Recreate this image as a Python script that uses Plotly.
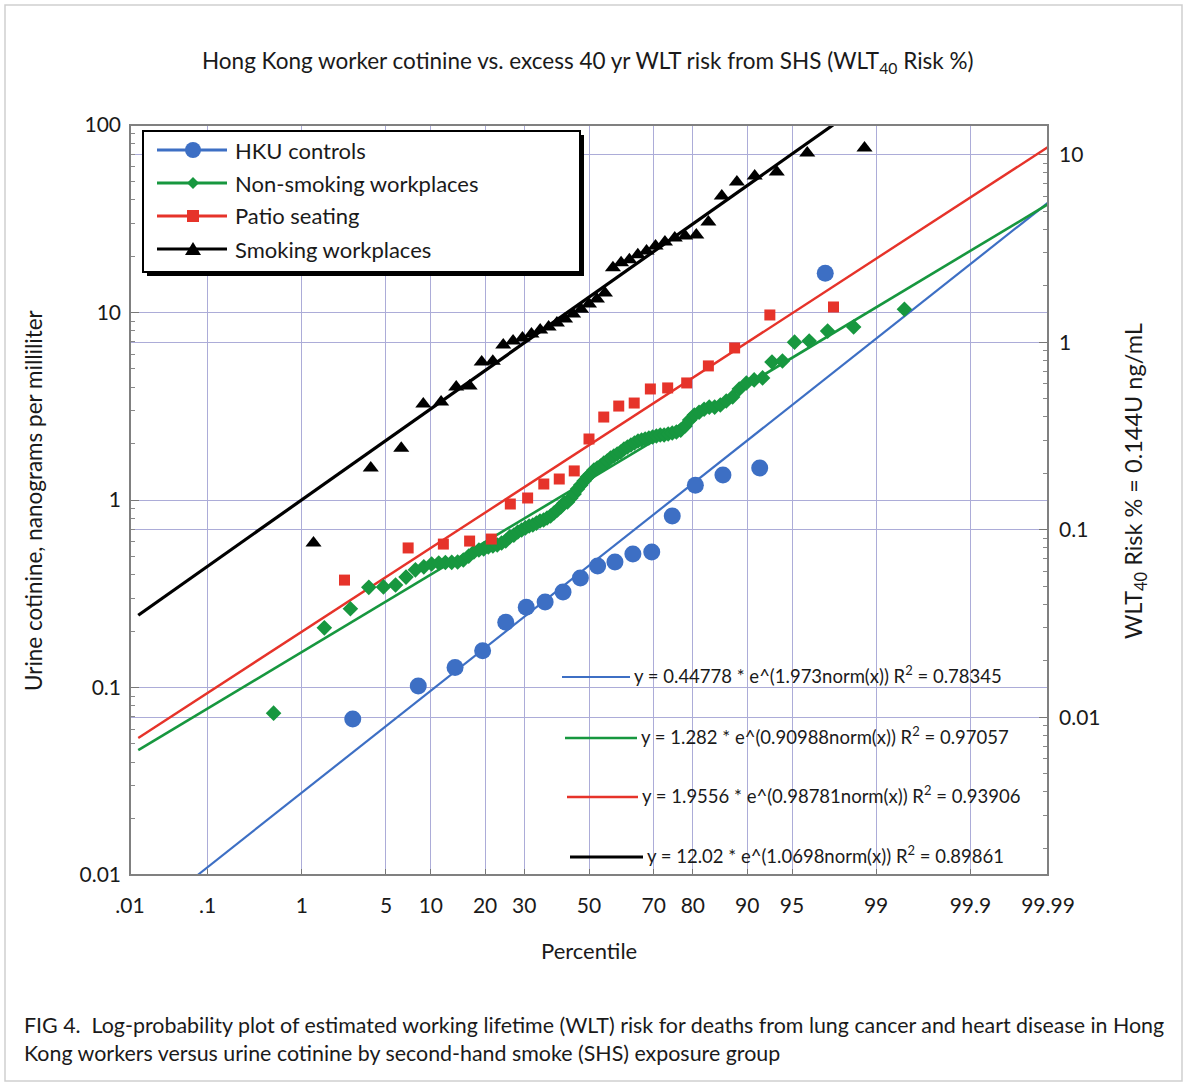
import plotly.graph_objects as go
from statistics import NormalDist
import math

# ---------------- data ----------------
tick_pct = [0.01, 0.1, 1, 5, 10, 20, 30, 50, 70, 80, 90, 95, 99, 99.9, 99.99]
tick_lbl = [".01", ".1", "1", "5", "10", "20", "30", "50", "70", "80", "90", "95", "99", "99.9", "99.99"]

hku_pct = [2.78, 8.33, 13.89, 19.44, 25.0, 30.56, 36.11, 41.67, 47.22, 52.78,
           58.33, 63.89, 69.44, 75.0, 80.56, 86.11, 91.67, 97.22]
hku_val = [0.068, 0.102, 0.128, 0.157, 0.223, 0.268, 0.286, 0.323, 0.384, 0.445,
           0.467, 0.515, 0.528, 0.822, 1.20, 1.36, 1.48, 16.2]

nonsmk_pct = [0.53, 1.60, 2.66, 3.72, 4.79, 5.85, 6.91, 7.98, 9.04, 10.11,
              11.17, 12.23, 13.30, 14.36, 15.43, 16.49, 17.55, 18.62, 19.68, 20.74,
              21.81, 22.87, 23.94, 25.00, 26.06, 27.13, 28.19, 29.26, 30.32, 31.38,
              32.45, 33.51, 34.57, 35.64, 36.70, 37.77, 38.83, 39.89, 40.96, 42.02,
              43.09, 44.15, 45.21, 46.28, 47.34, 48.40, 49.47, 50.53, 51.60, 52.66,
              53.72, 54.79, 55.85, 56.91, 57.98, 59.04, 60.11, 61.17, 62.23, 63.30,
              64.36, 65.43, 66.49, 67.55, 68.62, 69.68, 70.74, 71.81, 72.87, 73.94,
              75.00, 76.06, 77.13, 78.19, 79.26, 80.32, 81.38, 82.45, 83.51, 84.57,
              85.64, 86.70, 87.77, 88.83, 89.89, 90.96, 92.02, 93.09, 94.15, 95.21,
              96.28, 97.34, 98.40, 99.47]
nonsmk_val = [0.073, 0.208, 0.263, 0.342, 0.344, 0.352, 0.388, 0.424, 0.440, 0.456,
              0.461, 0.464, 0.465, 0.467, 0.479, 0.502, 0.528, 0.541, 0.548, 0.561,
              0.569, 0.575, 0.590, 0.604, 0.636, 0.650, 0.675, 0.692, 0.710, 0.726,
              0.736, 0.753, 0.773, 0.782, 0.802, 0.822, 0.853, 0.885, 0.919, 0.964,
              0.975, 1.025, 1.077, 1.145, 1.202, 1.262, 1.326, 1.376, 1.445, 1.481,
              1.518, 1.575, 1.614, 1.675, 1.717, 1.758, 1.803, 1.871, 1.918, 1.965,
              2.014, 2.065, 2.09, 2.115, 2.143, 2.168, 2.194, 2.222, 2.222, 2.249,
              2.275, 2.305, 2.36, 2.48, 2.67, 2.84, 2.94, 3.05, 3.13, 3.13,
              3.21, 3.37, 3.54, 3.91, 4.21, 4.37, 4.48, 5.45, 5.51, 6.95,
              7.05, 7.96, 8.37, 10.4]

patio_pct = [2.38, 7.14, 11.90, 16.67, 21.43, 26.19, 30.95, 35.71, 40.48, 45.24, 50.0,
             54.76, 59.52, 64.29, 69.05, 73.81, 78.57, 83.33, 88.10, 92.86, 97.62]
patio_val = [0.374, 0.555, 0.582, 0.604, 0.619, 0.952, 1.025, 1.217, 1.294, 1.429, 2.115,
             2.77, 3.17, 3.29, 3.91, 3.96, 4.21, 5.19, 6.47, 9.70, 10.7]

smk_pct = [1.28, 3.85, 6.41, 8.97, 11.54, 14.10, 16.67, 19.23, 21.79, 24.36,
           26.92, 29.49, 32.05, 34.62, 37.18, 39.74, 42.31, 44.87, 47.44, 50.0,
           52.56, 55.13, 57.69, 60.26, 62.82, 65.38, 67.95, 70.51, 73.08, 75.64,
           78.21, 80.77, 83.33, 85.90, 88.46, 91.03, 93.59, 96.15, 98.72]
smk_val = [0.590, 1.48, 1.89, 3.25, 3.33, 4.01, 4.05, 5.45, 5.50, 6.71,
           7.05, 7.31, 7.68, 8.07, 8.37, 8.79, 9.23, 9.82, 10.4, 11.1,
           11.8, 12.7, 17.3, 18.4, 19.1, 20.3, 21.3, 22.6, 23.8, 25.0,
           25.6, 25.9, 30.4, 41.8, 49.7, 53.5, 56.1, 70.9, 75.4]

# fitted lines: end points (percentile, ng/mL)
fit_hku_pct, fit_hku_val = [0.076, 99.99], [0.01, 38.5]
fit_nonsmk_pct, fit_nonsmk_val = [0.013, 99.99], [0.0463, 37.8]
fit_patio_pct, fit_patio_val = [0.013, 99.99], [0.0538, 76.3]
fit_smk_pct, fit_smk_val = [0.013, 97.6], [0.243, 100.0]

series_names = ["HKU controls", "Non-smoking workplaces", "Patio seating", "Smoking workplaces"]
equations = [
    "y = 0.44778 * e^(1.973norm(x)) R<sup>2</sup> = 0.78345",
    "y = 1.282 * e^(0.90988norm(x)) R<sup>2</sup> = 0.97057",
    "y = 1.9556 * e^(0.98781norm(x)) R<sup>2</sup> = 0.93906",
    "y = 12.02 * e^(1.0698norm(x)) R<sup>2</sup> = 0.89861",
]

# ---------------- styling ----------------
BLUE, GREEN, RED, BLACK = "#3d6fc4", "#17973f", "#e6332a", "#000000"
GRID = "#acacd8"
FONT = "Lato"
TXT = "#1a1a1a"

nd = NormalDist()
def probit(pcts):
    return [nd.inv_cdf(p / 100.0) for p in pcts]

W, H = 1187, 1086
# plot-area edges in page pixels
L, R, T, B = 130, 1048, 125, 875
def px(x):
    return (x - L) / (R - L)
def py(y):
    return (B - y) / (B - T)

fig = go.Figure()

# fit lines
for pc, vl, col, wd in [(fit_hku_pct, fit_hku_val, BLUE, 2.2),
                        (fit_nonsmk_pct, fit_nonsmk_val, GREEN, 2.6),
                        (fit_patio_pct, fit_patio_val, RED, 2.4),
                        (fit_smk_pct, fit_smk_val, BLACK, 3.2)]:
    fig.add_trace(go.Scatter(x=probit(pc), y=vl, mode="lines",
                             line=dict(color=col, width=wd), showlegend=False,
                             hoverinfo="skip"))

# data points
fig.add_trace(go.Scatter(x=probit(nonsmk_pct), y=nonsmk_val, mode="markers",
                         marker=dict(symbol="diamond", size=12, color=GREEN),
                         name=series_names[1], showlegend=False))
fig.add_trace(go.Scatter(x=probit(patio_pct), y=patio_val, mode="markers",
                         marker=dict(symbol="square", size=11, color=RED),
                         name=series_names[2], showlegend=False))
fig.add_trace(go.Scatter(x=probit(hku_pct), y=hku_val, mode="markers",
                         marker=dict(symbol="circle", size=17, color=BLUE),
                         name=series_names[0], showlegend=False))
fig.add_trace(go.Scatter(x=probit(smk_pct), y=smk_val, mode="markers",
                         marker=dict(symbol="triangle-up", size=14, color=BLACK),
                         name=series_names[3], showlegend=False))

# secondary axis carrier (invisible)
fig.add_trace(go.Scatter(x=[0], y=[1], yaxis="y2", mode="markers",
                         marker=dict(opacity=0), showlegend=False, hoverinfo="skip"))

zt = probit(tick_pct)
minor_y = [m * 10 ** e for e in range(-2, 2) for m in range(2, 10)]
minor_y2 = [m * 10 ** e for e in range(-3, 2) for m in range(2, 10)]

fig.update_layout(
    width=W, height=H,
    margin=dict(l=L, r=W - R, t=T, b=H - B, pad=0),
    paper_bgcolor="white", plot_bgcolor="white",
    font=dict(family=FONT, size=20, color=TXT),
    showlegend=False,
    xaxis=dict(range=[nd.inv_cdf(0.0001), nd.inv_cdf(0.9999)], tickvals=zt, ticktext=tick_lbl,
               showgrid=True, gridcolor=GRID, gridwidth=1.4, zeroline=False,
               ticks="inside", ticklen=6, tickcolor="#777", showline=False,
               tickfont=dict(size=21, family=FONT, color=TXT), ticklabelstandoff=16),
    yaxis=dict(type="log", range=[-2, 2], tickvals=[0.01, 0.1, 1, 10, 100],
               ticktext=["0.01", "0.1", "1", "10", "100"],
               showgrid=True, gridcolor=GRID, gridwidth=1.4, zeroline=False,
               ticks="inside", ticklen=9, tickcolor="#777", showline=False,
               minor=dict(tickvals=minor_y, ticks="inside", ticklen=5, tickcolor="#888", showgrid=False),
               tickfont=dict(size=21, family=FONT, color=TXT), ticklabelstandoff=8),
    yaxis2=dict(type="log", overlaying="y", side="right",
                range=[math.log10(0.00144), math.log10(14.4)],
                tickvals=[0.01, 0.1, 1, 10], ticktext=["0.01", "0.1", "1", "10"],
                showgrid=True, gridcolor=GRID, gridwidth=1.4, zeroline=False,
                ticks="inside", ticklen=9, tickcolor="#777", showline=False,
                minor=dict(tickvals=minor_y2, ticks="inside", ticklen=5, tickcolor="#888", showgrid=False),
                tickfont=dict(size=21, family=FONT, color=TXT), ticklabelstandoff=10),
)

shapes = []
annotations = []
# outer page border
shapes.append(dict(type="rect", xref="paper", yref="paper", x0=px(5), x1=px(1182),
                   y0=py(1081), y1=py(5), line=dict(color="#cfcfcf", width=1.5), layer="below"))
# plot frame
shapes.append(dict(type="rect", xref="paper", yref="paper", x0=0, x1=1, y0=0, y1=1,
                   line=dict(color="#808080", width=2), layer="above"))

# legend box with shadow
lx0, lx1, ly0, ly1 = 143, 580, 131, 272
shapes.append(dict(type="rect", xref="paper", yref="paper", x0=px(lx0 + 4), x1=px(lx1 + 4),
                   y0=py(ly1 + 4), y1=py(ly0 + 4), line=dict(width=0), fillcolor="black", layer="above"))
shapes.append(dict(type="rect", xref="paper", yref="paper", x0=px(lx0), x1=px(lx1),
                   y0=py(ly1), y1=py(ly0), line=dict(width=2, color="black"), fillcolor="white", layer="above"))
leg_y = [150, 183, 216, 249]
leg_col = [BLUE, GREEN, RED, BLACK]
for i, (yy, col, nm) in enumerate(zip(leg_y, leg_col, series_names)):
    shapes.append(dict(type="line", xref="paper", yref="paper", x0=px(157), x1=px(227),
                       y0=py(yy), y1=py(yy), line=dict(color=col, width=3.2), layer="above"))
    cx, cy = px(193), py(yy)
    if i == 0:
        shapes.append(dict(type="circle", xref="paper", yref="paper", xsizemode="pixel", ysizemode="pixel",
                           xanchor=cx, yanchor=cy, x0=-8, x1=8, y0=-8, y1=8,
                           fillcolor=col, line=dict(width=0), layer="above"))
    elif i == 1:
        shapes.append(dict(type="path", xref="paper", yref="paper", xsizemode="pixel", ysizemode="pixel",
                           xanchor=cx, yanchor=cy, path="M 0,6 L 6,0 L 0,-6 L -6,0 Z",
                           fillcolor=col, line=dict(width=0), layer="above"))
    elif i == 2:
        shapes.append(dict(type="rect", xref="paper", yref="paper", xsizemode="pixel", ysizemode="pixel",
                           xanchor=cx, yanchor=cy, x0=-6, x1=6, y0=-6, y1=6,
                           fillcolor=col, line=dict(width=0), layer="above"))
    else:
        shapes.append(dict(type="path", xref="paper", yref="paper", xsizemode="pixel", ysizemode="pixel",
                           xanchor=cx, yanchor=cy, path="M -8,-6 L 8,-6 L 0,7 Z",
                           fillcolor=col, line=dict(width=0), layer="above"))
    annotations.append(dict(xref="paper", yref="paper", x=px(233), y=py(yy), xanchor="left", yanchor="middle",
                            text=nm, showarrow=False, font=dict(size=22, family=FONT, color=TXT)))

# equation labels
eq_rows = [(562, 630, 677, BLUE, 2.2), (565, 637, 738, GREEN, 2.6),
           (567, 638, 797, RED, 2.4), (570, 643, 857, BLACK, 3.2)]
for (x0, x1, yy, col, wd), txt in zip(eq_rows, equations):
    shapes.append(dict(type="line", xref="paper", yref="paper", x0=px(x0), x1=px(x1),
                       y0=py(yy), y1=py(yy), line=dict(color=col, width=wd), layer="above"))
    annotations.append(dict(xref="paper", yref="paper", x=px(x1 + 2), y=py(yy - 3), xanchor="left",
                            yanchor="middle", text=txt, showarrow=False,
                            font=dict(size=18.5, family=FONT, color=TXT)))

# titles
annotations.append(dict(xref="paper", yref="paper", x=px(588), y=py(62), xanchor="center", yanchor="middle",
                        text="Hong Kong worker cotinine vs. excess 40 yr WLT risk from SHS (WLT<sub>40</sub> Risk %)",
                        showarrow=False, font=dict(size=22.5, family=FONT, color=TXT)))
annotations.append(dict(xref="paper", yref="paper", x=px(589), y=py(950), xanchor="center", yanchor="middle",
                        text="Percentile", showarrow=False, font=dict(size=22, family=FONT, color=TXT)))
annotations.append(dict(xref="paper", yref="paper", x=px(33), y=py(500), xanchor="center", yanchor="middle",
                        text="Urine cotinine, nanograms per milliliter", textangle=-90,
                        showarrow=False, font=dict(size=22.5, family=FONT, color=TXT)))
annotations.append(dict(xref="paper", yref="paper", x=px(1135), y=py(481), xanchor="center", yanchor="middle",
                        text="WLT<sub>40</sub> Risk % = 0.144U ng/mL", textangle=-90,
                        showarrow=False, font=dict(size=23.5, family=FONT, color=TXT)))
# caption
annotations.append(dict(xref="paper", yref="paper", x=px(22), y=py(1025), xanchor="left", yanchor="middle",
                        text="FIG 4.  Log-probability plot of estimated working lifetime (WLT) risk for deaths from lung cancer and heart disease in Hong",
                        showarrow=False, font=dict(size=21.4, family=FONT, color=TXT)))
annotations.append(dict(xref="paper", yref="paper", x=px(22), y=py(1053), xanchor="left", yanchor="middle",
                        text="Kong workers versus urine cotinine by second-hand smoke (SHS) exposure group",
                        showarrow=False, font=dict(size=21.4, family=FONT, color=TXT)))

fig.update_layout(shapes=shapes, annotations=annotations)
# remove the browser's default body margin so the figure sits at the page origin
fig.write_html("out.html", config={"displayModeBar": False},
               post_script="document.body.style.margin='0';")
